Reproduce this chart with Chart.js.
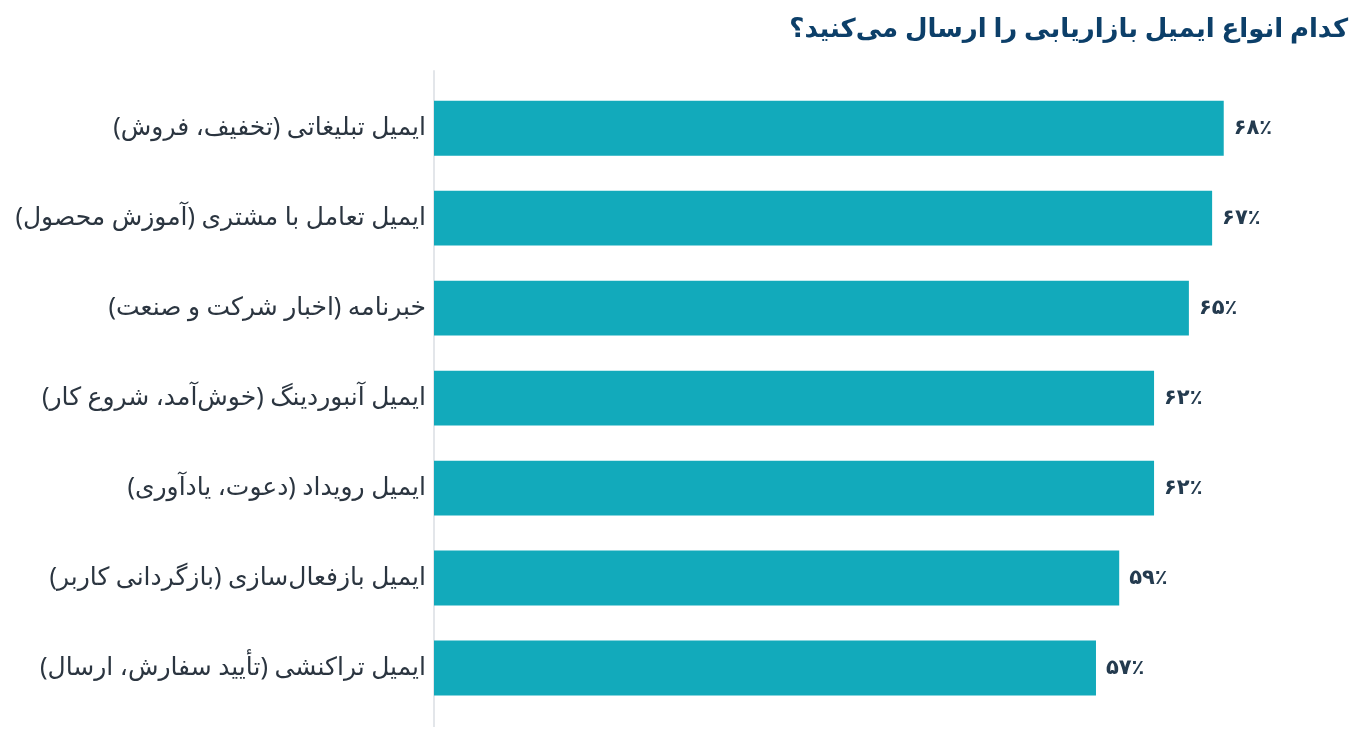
<!DOCTYPE html>
<html lang="fa">
<head>
<meta charset="utf-8">
<script src="https://cdn.jsdelivr.net/npm/chart.js@4.4.1/dist/chart.umd.min.js"></script>
<style>
  html, body { margin: 0; padding: 0; background: #ffffff; }
  #wrap { width: 1365px; height: 741px; position: relative; }
  canvas { direction: rtl; }
</style>
</head>
<body>
<div id="wrap"><canvas id="emailChart" dir="rtl"></canvas></div>
<script>
// Chart data
const chartTitle = 'کدام انواع ایمیل بازاریابی را ارسال می‌کنید؟';
const categories = [
    'ایمیل تبلیغاتی (تخفیف، فروش)',
    'ایمیل تعامل با مشتری (آموزش محصول)',
    'خبرنامه (اخبار شرکت و صنعت)',
    'ایمیل آنبوردینگ (خوش‌آمد، شروع کار)',
    'ایمیل رویداد (دعوت، یادآوری)',
    'ایمیل بازفعال‌سازی (بازگردانی کاربر)',
    'ایمیل تراکنشی (تأیید سفارش، ارسال)'
];
const percentValues = [68, 67, 65, 62, 62, 59, 57];
const xMin = 0;
const xMax = 78.7;

const fontFamily = '"Noto Sans", "DejaVu Sans", sans-serif';

// Persian digits for the value labels
const toPersianDigits = (n) => String(n).replace(/\d/g, d => '۰۱۲۳۴۵۶۷۸۹'[d]);

// Value label at the end of each bar
const valueLabels = {
    id: 'valueLabels',
    afterDatasetsDraw(chart) {
        const ctx = chart.ctx;
        const meta = chart.getDatasetMeta(0);
        ctx.save();
        ctx.font = 'bold 21px ' + fontFamily;
        ctx.fillStyle = '#243b4f';
        ctx.textAlign = 'left';
        ctx.textBaseline = 'middle';
        meta.data.forEach((bar, i) => {
            ctx.fillText(toPersianDigits(percentValues[i]) + '٪', bar.x + 10, bar.y);
        });
        ctx.restore();
    }
};

// Light vertical axis line, a bit taller than the bar band
const axisLine = {
    id: 'axisLine',
    beforeDatasetsDraw(chart) {
        const { ctx, chartArea } = chart;
        ctx.save();
        ctx.strokeStyle = '#e3e6ea';
        ctx.lineWidth = 2;
        ctx.beginPath();
        ctx.moveTo(chartArea.left, chartArea.top - 13);
        ctx.lineTo(chartArea.left, chartArea.bottom + 14);
        ctx.stroke();
        ctx.restore();
    }
};

const ctx = document.getElementById('emailChart').getContext('2d');
const emailChart = new Chart(ctx, {
    type: 'bar',
    data: {
        labels: categories,
        datasets: [{
            data: percentValues,
            backgroundColor: '#12aabb',
            borderWidth: 0,
            categoryPercentage: 1,
            barPercentage: 0.61
        }]
    },
    options: {
        indexAxis: 'y',
        responsive: true,
        maintainAspectRatio: false,
        animation: false,
        layout: {
            padding: { left: 0, right: 17, top: 0, bottom: 28 }
        },
        plugins: {
            legend: { display: false },
            tooltip: { enabled: false },
            title: {
                display: true,
                text: chartTitle,
                align: 'end',
                color: '#0c3f69',
                font: { family: fontFamily, size: 26, weight: 'bold' },
                padding: { top: 14, bottom: 38 }
            }
        },
        scales: {
            x: {
                display: false,
                min: xMin,
                max: xMax
            },
            y: {
                grid: { display: false },
                border: { display: false },
                ticks: {
                    color: '#2b3540',
                    padding: 0,
                    font: { family: fontFamily, size: 25 }
                },
                afterFit(scale) {
                    scale.width = 434;
                }
            }
        }
    },
    plugins: [axisLine, valueLabels]
});
</script>
</body>
</html>
